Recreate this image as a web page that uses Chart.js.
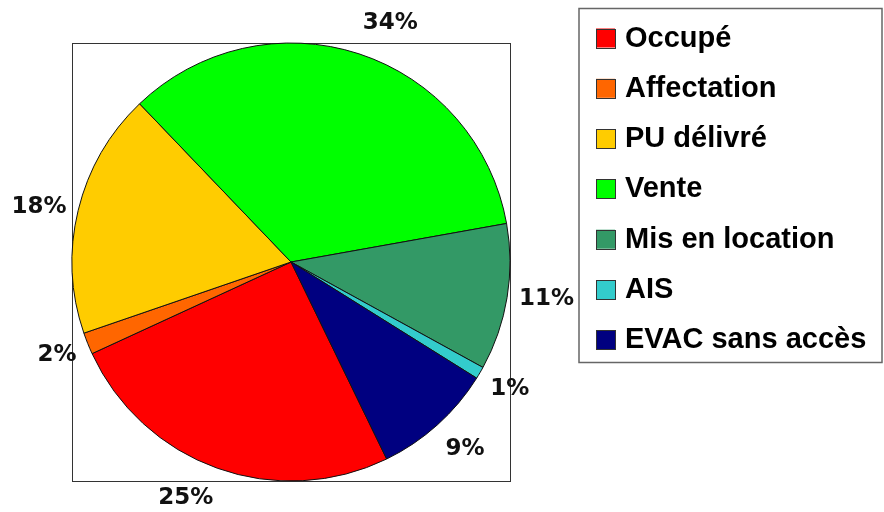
<!DOCTYPE html>
<html>
<head>
<meta charset="utf-8">
<script src="https://cdn.jsdelivr.net/npm/chart.js@4"></script>
<style>
  body { margin: 0; background: #fff; }
  #wrap { width: 884px; height: 512px; }
</style>
</head>
<body>
<div id="wrap"><canvas id="pieChart" width="884" height="512"></canvas></div>
<script>
// values (shares in %)
const categories = ['Occupé', 'Affectation', 'PU délivré', 'Vente', 'Mis en location', 'AIS', 'EVAC sans accès'];
const shares = [25.3, 1.6, 18.1, 34.3, 10.8, 0.9, 8.9];
const sliceColors = ['#ff0000', '#ff6600', '#ffcc00', '#00ff00', '#339966', '#33cccc', '#000080'];

// frame round the pie (plot area border)
const frameBox = {
    id: 'frameBox',
    beforeDatasetsDraw(chart) {
        const arc = chart.getDatasetMeta(0).data[0];
        if (!arc) return;
        const ctx = chart.ctx;
        const r = arc.outerRadius;
        ctx.save();
        ctx.strokeStyle = '#333';
        ctx.lineWidth = 1;
        ctx.strokeRect(Math.round(arc.x - r) + 0.5, Math.round(arc.y - r) + 0.5, Math.round(2 * r), Math.round(2 * r));
        ctx.restore();
    }
};

// percentage labels outside the slices, box pushed away from the pie
const outerLabels = {
    id: 'outerLabels',
    afterDatasetsDraw(chart) {
        const meta = chart.getDatasetMeta(0);
        const data = chart.data.datasets[0].data;
        const total = data.reduce((a, b) => a + b, 0);
        const ctx = chart.ctx;
        ctx.save();
        ctx.font = 'bold 23px "DejaVu Sans"';
        ctx.fillStyle = '#111';
        ctx.textAlign = 'center';
        ctx.textBaseline = 'middle';
        meta.data.forEach((arc, i) => {
            const text = Math.round(data[i] / total * 100) + '%';
            const mid = (arc.startAngle + arc.endAngle) / 2;
            const dist = arc.outerRadius + 12;
            const cx = Math.cos(mid), cy = Math.sin(mid);
            const w = ctx.measureText(text).width;
            const sx = Math.abs(cx) < 0.3 ? 0 : Math.sign(cx);
            const dy = Math.abs(cy) < 0.3 ? 0 : cy * 20;
            const x = arc.x + cx * dist + sx * w / 2;
            const y = arc.y + cy * dist + dy;
            ctx.fillText(text, x, y);
        });
        ctx.restore();
    }
};

// boxed legend on the right
const boxLegend = {
    id: 'boxLegend',
    afterDraw(chart) {
        const ctx = chart.ctx;
        const labels = chart.data.labels;
        const colors = chart.data.datasets[0].backgroundColor;
        ctx.save();
        ctx.strokeStyle = '#666';
        ctx.lineWidth = 1.5;
        ctx.strokeRect(579, 8.5, 303, 354);
        ctx.font = 'bold 29px "Liberation Sans"';
        ctx.textBaseline = 'middle';
        ctx.textAlign = 'left';
        labels.forEach((label, i) => {
            const cy = 37.5 + i * 50.3;
            ctx.fillStyle = colors[i];
            ctx.fillRect(596, cy - 9, 19, 19);
            ctx.strokeStyle = '#333';
            ctx.lineWidth = 1;
            ctx.strokeRect(596.5, Math.round(cy - 9) + 0.5, 19, 19);
            ctx.fillStyle = '#000';
            ctx.fillText(label, 625, cy + 1);
        });
        ctx.restore();
    }
};

const ctx = document.getElementById('pieChart').getContext('2d');
new Chart(ctx, {
    type: 'pie',
    data: {
        labels: categories,
        datasets: [{
            data: shares,
            backgroundColor: sliceColors,
            borderColor: '#111',
            borderWidth: 1
        }]
    },
    options: {
        responsive: false,
        animation: false,
        rotation: 154.1,
        radius: 219,
        layout: {
            padding: { left: 0, right: 302, top: 20, bottom: 8 }
        },
        plugins: {
            legend: { display: false },
            tooltip: { enabled: false }
        }
    },
    plugins: [frameBox, outerLabels, boxLegend]
});
</script>
</body>
</html>
